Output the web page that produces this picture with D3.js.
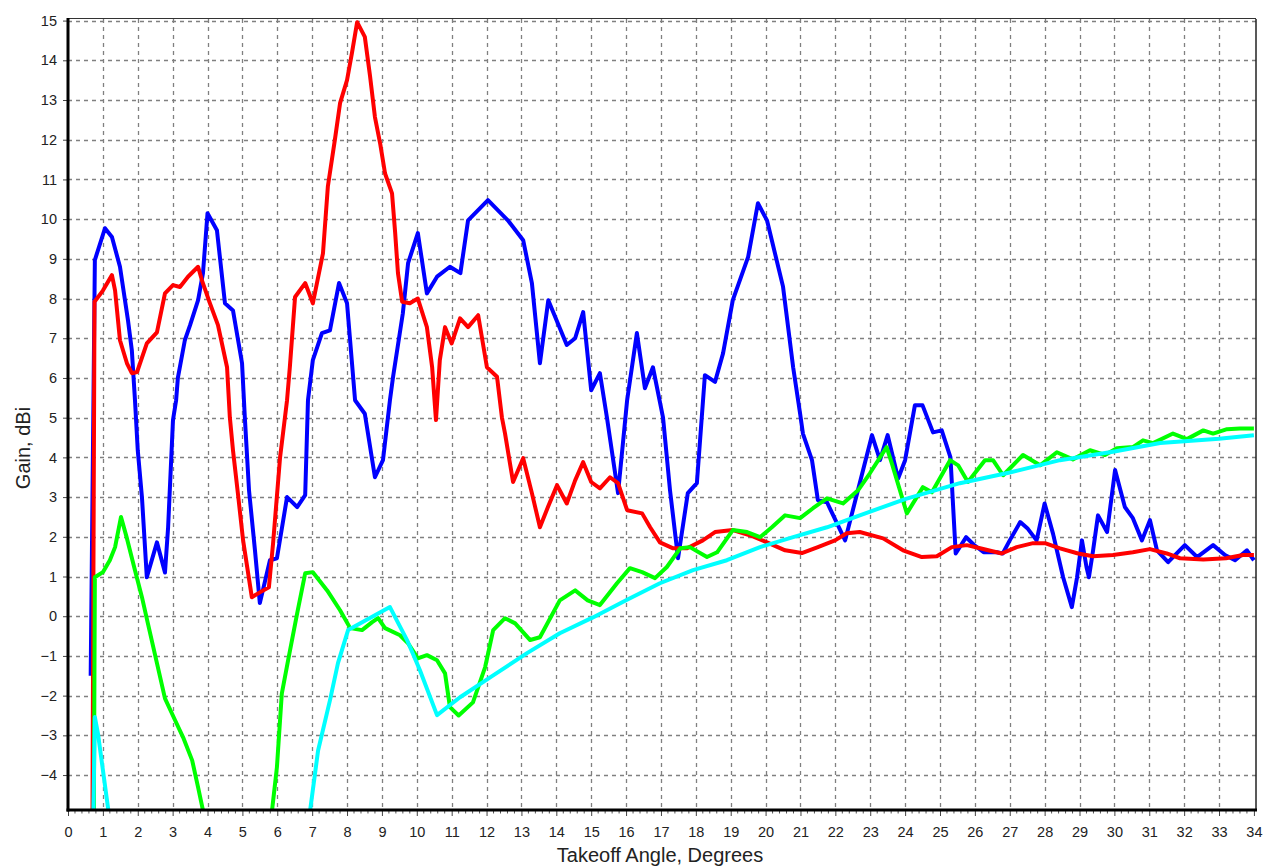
<!DOCTYPE html>
<html>
<head>
<meta charset="utf-8">
<script src="https://cdn.jsdelivr.net/npm/d3@7"></script>
<style>
  body { margin: 0; background: #fff; }
  svg { display: block; font-family: "Liberation Sans", Arial, sans-serif; }
</style>
</head>
<body>
<svg width="1268" height="868"></svg>
<script>
// takeoff angle (deg), gain (dBi)
var blueGain = [[0.65,-1.5],[0.77,8.97],[1.06,9.77],[1.26,9.55],[1.49,8.8],[1.72,7.45],[1.83,6.7],[1.92,5.44],[2.0,4.18],[2.12,3.0],[2.26,0.98],[2.55,1.86],[2.78,1.1],[2.87,2.24],[3.01,4.94],[3.1,5.44],[3.15,6.0],[3.35,6.95],[3.5,7.33],[3.73,7.96],[3.87,8.64],[4.0,10.15],[4.27,9.72],[4.5,7.88],[4.73,7.7],[4.99,6.37],[5.07,5.0],[5.19,3.17],[5.36,1.66],[5.5,0.33],[5.79,1.41],[5.99,1.46],[6.28,3.0],[6.57,2.75],[6.8,3.05],[6.88,5.44],[7.02,6.45],[7.28,7.13],[7.51,7.2],[7.77,8.39],[8.0,7.88],[8.23,5.44],[8.51,5.1],[8.8,3.5],[9.03,3.93],[9.23,5.44],[9.32,6.03],[9.6,7.63],[9.75,8.89],[10.03,9.65],[10.29,8.13],[10.58,8.55],[10.95,8.8],[11.25,8.64],[11.47,9.97],[12.04,10.48],[12.61,9.97],[13.05,9.47],[13.3,8.39],[13.53,6.37],[13.77,7.96],[14.3,6.83],[14.54,7.0],[14.77,7.66],[15.0,5.69],[15.25,6.12],[15.45,5.01],[15.77,3.1],[16.03,5.44],[16.31,7.13],[16.54,5.74],[16.77,6.27],[17.06,5.0],[17.26,3.17],[17.49,1.46],[17.77,3.1],[18.03,3.35],[18.26,6.07],[18.55,5.9],[18.78,6.62],[19.06,7.96],[19.5,9.05],[19.78,10.4],[20.04,9.97],[20.5,8.3],[20.79,6.27],[20.99,5.1],[21.07,4.6],[21.33,3.93],[21.5,2.92],[21.76,2.87],[22.28,1.91],[23.05,4.56],[23.28,3.93],[23.5,4.56],[23.8,3.47],[24.0,3.93],[24.28,5.31],[24.5,5.31],[24.8,4.63],[25.05,4.68],[25.3,4.0],[25.45,1.58],[25.75,1.99],[25.97,1.8],[26.25,1.61],[26.63,1.61],[26.8,1.58],[27.0,1.91],[27.3,2.37],[27.52,2.2],[27.77,1.91],[28.0,2.84],[28.24,2.08],[28.53,0.98],[28.78,0.23],[28.93,0.98],[29.07,1.91],[29.2,1.24],[29.27,0.98],[29.39,1.66],[29.53,2.54],[29.79,2.12],[30.02,3.68],[30.3,2.75],[30.53,2.47],[30.79,1.91],[31.02,2.42],[31.22,1.66],[31.54,1.36],[32.02,1.79],[32.37,1.49],[32.83,1.79],[33.17,1.54],[33.46,1.41],[33.8,1.66],[34.0,1.41]];

var redGain = [[0.7,-5.3],[0.76,7.92],[1.0,8.2],[1.26,8.59],[1.35,8.2],[1.49,6.95],[1.69,6.37],[1.83,6.12],[1.98,6.15],[2.26,6.87],[2.55,7.15],[2.78,8.13],[3.01,8.34],[3.21,8.29],[3.44,8.55],[3.73,8.8],[3.84,8.46],[4.07,7.88],[4.3,7.33],[4.56,6.27],[4.64,5.01],[4.73,4.18],[4.87,3.1],[5.02,1.91],[5.27,0.48],[5.5,0.6],[5.76,0.73],[5.88,1.84],[6.08,4.0],[6.28,5.44],[6.36,6.27],[6.51,8.04],[6.8,8.39],[7.02,7.88],[7.31,9.14],[7.45,10.82],[7.65,11.99],[7.8,12.92],[8.0,13.5],[8.14,14.18],[8.29,14.96],[8.51,14.59],[8.66,13.6],[8.8,12.57],[8.95,11.9],[9.09,11.15],[9.29,10.65],[9.38,9.65],[9.46,8.64],[9.58,7.92],[9.8,7.88],[10.03,8.0],[10.29,7.28],[10.44,6.27],[10.55,4.94],[10.66,6.45],[10.81,7.28],[11.0,6.87],[11.24,7.5],[11.47,7.28],[11.76,7.58],[12.01,6.27],[12.3,6.03],[12.44,5.01],[12.53,4.6],[12.76,3.38],[13.05,3.98],[13.3,3.1],[13.53,2.24],[13.76,2.75],[14.02,3.3],[14.3,2.84],[14.54,3.42],[14.77,3.88],[15.0,3.38],[15.25,3.22],[15.54,3.5],[15.77,3.35],[16.03,2.67],[16.46,2.59],[16.69,2.24],[16.97,1.86],[17.35,1.71],[17.75,1.71],[18.2,1.91],[18.55,2.12],[19.06,2.17],[19.55,2.04],[20.04,1.86],[20.56,1.66],[21.04,1.59],[21.5,1.74],[21.99,1.91],[22.33,2.09],[22.7,2.12],[23.37,1.96],[23.94,1.66],[24.48,1.49],[24.91,1.51],[25.34,1.74],[25.77,1.79],[26.15,1.71],[26.77,1.58],[27.2,1.74],[27.67,1.84],[28.01,1.84],[28.44,1.71],[28.96,1.58],[29.39,1.51],[29.96,1.54],[30.53,1.61],[31.02,1.69],[31.5,1.58],[31.88,1.46],[32.55,1.43],[33.2,1.46],[33.69,1.54],[34.0,1.54]];

var greenGain = [[0.74,-5.3],[0.77,0.98],[1.0,1.11],[1.2,1.41],[1.35,1.74],[1.52,2.5],[1.69,1.96],[1.92,1.16],[2.12,0.48],[2.29,-0.18],[2.55,-1.18],[2.78,-2.07],[3.07,-2.62],[3.3,-3.05],[3.56,-3.63],[3.73,-4.31],[3.87,-4.89],[3.95,-5.3],[5.82,-5.3],[5.85,-4.89],[5.99,-3.8],[6.13,-1.95],[6.31,-1.11],[6.57,0.07],[6.8,1.08],[7.02,1.11],[7.43,0.65],[7.8,0.15],[8.09,-0.3],[8.43,-0.35],[8.72,-0.15],[8.89,-0.05],[9.09,-0.3],[9.52,-0.48],[9.75,-0.68],[10.03,-1.06],[10.29,-0.98],[10.58,-1.11],[10.81,-1.44],[10.95,-2.29],[11.2,-2.5],[11.61,-2.17],[11.96,-1.28],[12.19,-0.35],[12.53,-0.05],[12.82,-0.18],[13.25,-0.6],[13.53,-0.53],[14.1,0.4],[14.54,0.65],[14.9,0.4],[15.25,0.28],[15.74,0.83],[16.11,1.21],[16.46,1.11],[16.83,0.96],[17.17,1.24],[17.55,1.71],[17.83,1.74],[18.32,1.49],[18.61,1.61],[19.06,2.17],[19.47,2.12],[19.84,1.99],[20.18,2.24],[20.56,2.54],[20.99,2.47],[21.36,2.72],[21.76,2.97],[22.22,2.84],[22.65,3.17],[22.99,3.6],[23.47,4.26],[23.62,3.85],[24.05,2.59],[24.51,3.25],[24.77,3.12],[25.29,3.93],[25.52,3.8],[25.8,3.38],[26.29,3.93],[26.52,3.93],[26.81,3.55],[27.38,4.06],[27.87,3.8],[28.35,4.13],[28.81,3.95],[29.3,4.18],[29.73,4.06],[30.07,4.23],[30.53,4.26],[30.82,4.43],[31.11,4.36],[31.68,4.6],[32.08,4.46],[32.55,4.68],[32.83,4.6],[33.23,4.71],[33.6,4.73],[34.0,4.73]];

var cyanGain = [[0.72,-5.3],[0.77,-2.54],[0.86,-2.96],[1.22,-5.3],[6.88,-5.3],[7.17,-3.38],[7.51,-2.12],[7.74,-1.18],[8.03,-0.35],[9.23,0.23],[9.72,-0.6],[10.09,-1.36],[10.58,-2.49],[11.24,-2.04],[12.19,-1.49],[13.16,-0.93],[14.1,-0.43],[15.05,-0.03],[16.0,0.4],[16.97,0.83],[17.92,1.16],[18.89,1.41],[19.84,1.74],[20.79,1.99],[21.76,2.24],[22.7,2.54],[24.0,2.95],[25.57,3.35],[27.0,3.62],[28.44,3.93],[30.0,4.15],[31.31,4.36],[33.0,4.47],[34.0,4.56]];

var xTicks = d3.range(0, 35);
var yTicks = d3.range(-4, 16);

var series = [
  {data: blueGain, color: "#0000ff"},
  {data: redGain, color: "#ff0000"},
  {data: greenGain, color: "#00ff00"},
  {data: cyanGain, color: "#00ffff"}
];

var svg = d3.select("svg");
var plotL = 68, plotR = 1256, plotT = 19, plotB = 810;

var x = d3.scaleLinear().domain([0, 34.06]).range([plotL, plotR]);
var y = d3.scaleLinear().domain([-4.88, 15.04]).range([plotB, plotT]);

// grid
var grid = svg.append("g").attr("stroke", "#808080").attr("stroke-width", 1.3).attr("stroke-dasharray", "4,4");
grid.selectAll(".gx").data(xTicks.filter(function (d) {return d > 0 && d < 34;})).enter().append("line").
attr("x1", function (d) {return Math.round(x(d)) + 0.5;}).
attr("x2", function (d) {return Math.round(x(d)) + 0.5;}).
attr("y1", plotT).attr("y2", plotB);
grid.selectAll(".gy").data(yTicks).enter().append("line").
attr("y1", function (d) {return Math.round(y(d)) + 0.5;}).
attr("y2", function (d) {return Math.round(y(d)) + 0.5;}).
attr("x1", plotL).attr("x2", plotR);

// frame top/right thin
svg.append("line").attr("x1", plotL).attr("x2", plotR).attr("y1", plotT - 0.5).attr("y2", plotT - 0.5).attr("stroke", "#333").attr("stroke-width", 1.2);
svg.append("line").attr("x1", plotR).attr("x2", plotR).attr("y1", plotT).attr("y2", plotB).attr("stroke", "#222").attr("stroke-width", 1.5);

// series
svg.append("clipPath").attr("id", "plot").append("rect").
attr("x", plotL).attr("y", plotT).attr("width", plotR - plotL).attr("height", plotB - plotT);

var line = d3.line().x(function (d) {return x(d[0]);}).y(function (d) {return y(d[1]);});

svg.append("g").attr("clip-path", "url(#plot)").selectAll("path").data(series).enter().append("path").
attr("d", function (d) {return line(d.data);}).
attr("fill", "none").
attr("stroke", function (d) {return d.color;}).
attr("stroke-width", 4).
attr("stroke-linejoin", "round");

// axes
var xAxis = svg.append("g").attr("transform", "translate(0," + plotB + ")").
call(d3.axisBottom(x).tickValues(xTicks).tickSize(6).tickPadding(11).tickFormat(d3.format("d")));
xAxis.select(".domain").remove();
xAxis.selectAll(".tick line").attr("stroke", "#444");

svg.append("g").attr("stroke", "#555").selectAll("line").
data(d3.range(0, 170).map(function (i) {return i * 0.2;}).filter(function (d, i) {return i % 5 != 0;})).
enter().append("line").
attr("x1", function (d) {return x(d);}).attr("x2", function (d) {return x(d);}).
attr("y1", plotB).attr("y2", plotB + 3.5);

var yAxis = svg.append("g").attr("transform", "translate(" + plotL + ",0)").
call(d3.axisLeft(y).tickValues(yTicks).tickSize(5).tickPadding(6).tickFormat(d3.format("d")));
yAxis.select(".domain").remove();
yAxis.selectAll(".tick line").attr("stroke", "#444");

svg.selectAll(".tick text").attr("font-size", 14.5).attr("fill", "#222");

svg.append("line").attr("x1", plotL).attr("x2", plotL).attr("y1", plotT - 1).attr("y2", plotB + 1.5).attr("stroke", "#000").attr("stroke-width", 3);
svg.append("line").attr("x1", plotL - 1.5).attr("x2", plotR + 1).attr("y1", plotB).attr("y2", plotB).attr("stroke", "#000").attr("stroke-width", 3);

svg.append("text").attr("x", 660).attr("y", 862).attr("text-anchor", "middle").
attr("font-size", 20).attr("fill", "#222").text("Takeoff Angle, Degrees");

svg.append("text").attr("transform", "translate(30,448) rotate(-90)").attr("text-anchor", "middle").
attr("font-size", 20).attr("fill", "#222").text("Gain, dBi");
</script>
</body>
</html>
